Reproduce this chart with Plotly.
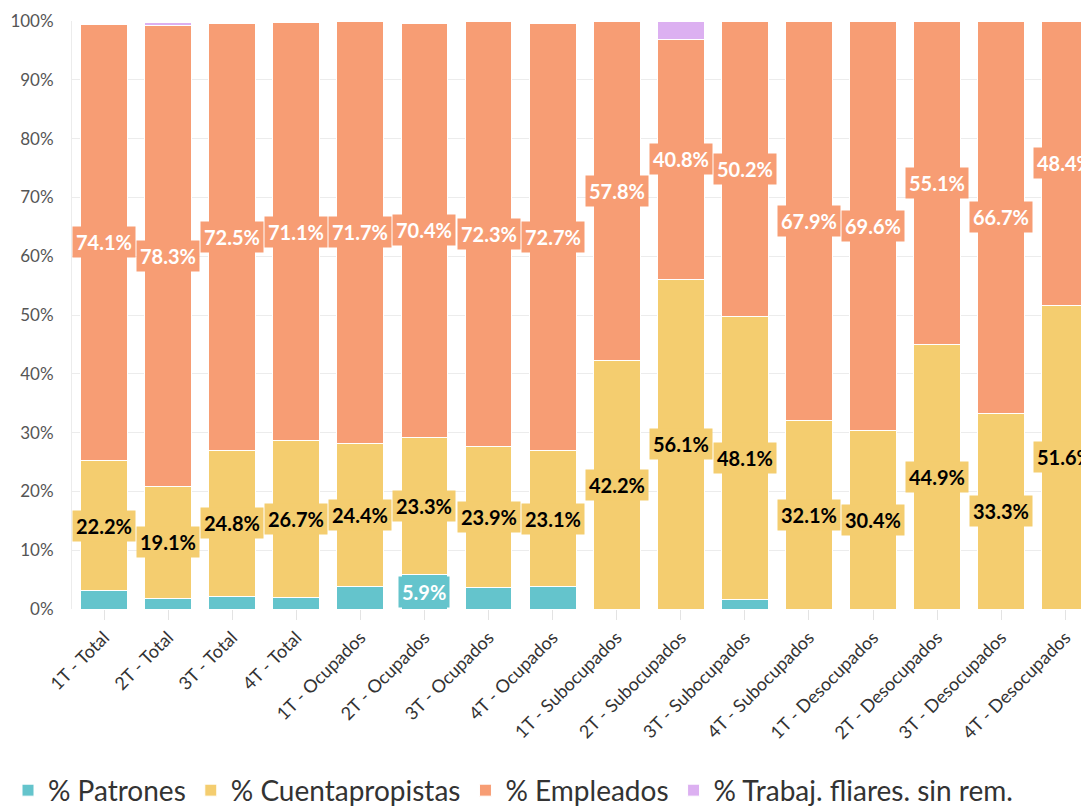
import plotly.graph_objects as go

categorias = [
    "1T - Total", "2T - Total", "3T - Total", "4T - Total",
    "1T - Ocupados", "2T - Ocupados", "3T - Ocupados", "4T - Ocupados",
    "1T - Subocupados", "2T - Subocupados", "3T - Subocupados", "4T - Subocupados",
    "1T - Desocupados", "2T - Desocupados", "3T - Desocupados", "4T - Desocupados",
]

patrones = [3.1, 1.8, 2.2, 1.9, 3.8, 5.9, 3.7, 3.8, 0, 0, 1.7, 0, 0, 0, 0, 0]
cuentapropistas = [22.2, 19.1, 24.8, 26.7, 24.4, 23.3, 23.9, 23.1,
                   42.2, 56.1, 48.1, 32.1, 30.4, 44.9, 33.3, 51.6]
empleados = [74.1, 78.3, 72.5, 71.1, 71.7, 70.4, 72.3, 72.7,
             57.8, 40.8, 50.2, 67.9, 69.6, 55.1, 66.7, 48.4]
trabaj_fliares = [0, 0.5, 0, 0, 0, 0, 0, 0, 0, 3.1, 0, 0, 0, 0, 0, 0]

series = [
    ("% Patrones", patrones, "#64c4cc", "white"),
    ("% Cuentapropistas", cuentapropistas, "#f4cd6f", "black"),
    ("% Empleados", empleados, "#f79d74", "white"),
    ("% Trabaj. fliares. sin rem.", trabaj_fliares, "#dcb0f1", "white"),
]

FONT = "Lato, 'Source Sans Pro', sans-serif"

fig = go.Figure()
base = [0.0] * len(categorias)
annotations = []
for name, vals, color, txtcolor in series:
    fig.add_trace(go.Bar(
        name=name,
        x=categorias,
        y=vals,
        marker=dict(color=color, line=dict(color="white", width=1)),
    ))
    for i, v in enumerate(vals):
        # solo se rotulan los segmentos de 5% o más
        if v >= 5:
            annotations.append(dict(
                x=categorias[i], y=base[i] + v / 2, xref="x", yref="y",
                text=f"<b>{v:.1f}%</b>", showarrow=False,
                font=dict(family=FONT, size=20, color=txtcolor),
                bgcolor=color, borderpad=3,
            ))
        base[i] += v

# la página tiene 8px de margen en el body, se compensa aquí
fig.update_layout(
    width=1081, height=799,
    margin=dict(l=64, r=0, t=13, b=198, autoexpand=False),
    barmode="stack",
    bargap=0.27,
    plot_bgcolor="white",
    paper_bgcolor="white",
    font=dict(family=FONT, color="#333"),
    annotations=annotations,
    legend=dict(
        orientation="h",
        xref="container", yref="container",
        x=-0.009, y=0.0207, xanchor="left", yanchor="middle",
        font=dict(size=28, color="#333"),
        itemwidth=30,
        traceorder="normal",
    ),
    xaxis=dict(
        range=[-0.5, 15.37],
        tickangle=-45,
        tickfont=dict(size=18, color="#333"),
        ticks="outside", ticklen=10, tickcolor="#e3e3e3",
        showgrid=False,
        automargin=False,
    ),
    yaxis=dict(
        range=[0, 100],
        dtick=10,
        ticksuffix="%",
        tickfont=dict(size=17, color="#555"),
        gridcolor="#ececec",
        showline=True, linecolor="#ececec",
        zeroline=False,
        ticklabelstandoff=14,
        automargin=False,
    ),
)

fig.write_html("out.html")
